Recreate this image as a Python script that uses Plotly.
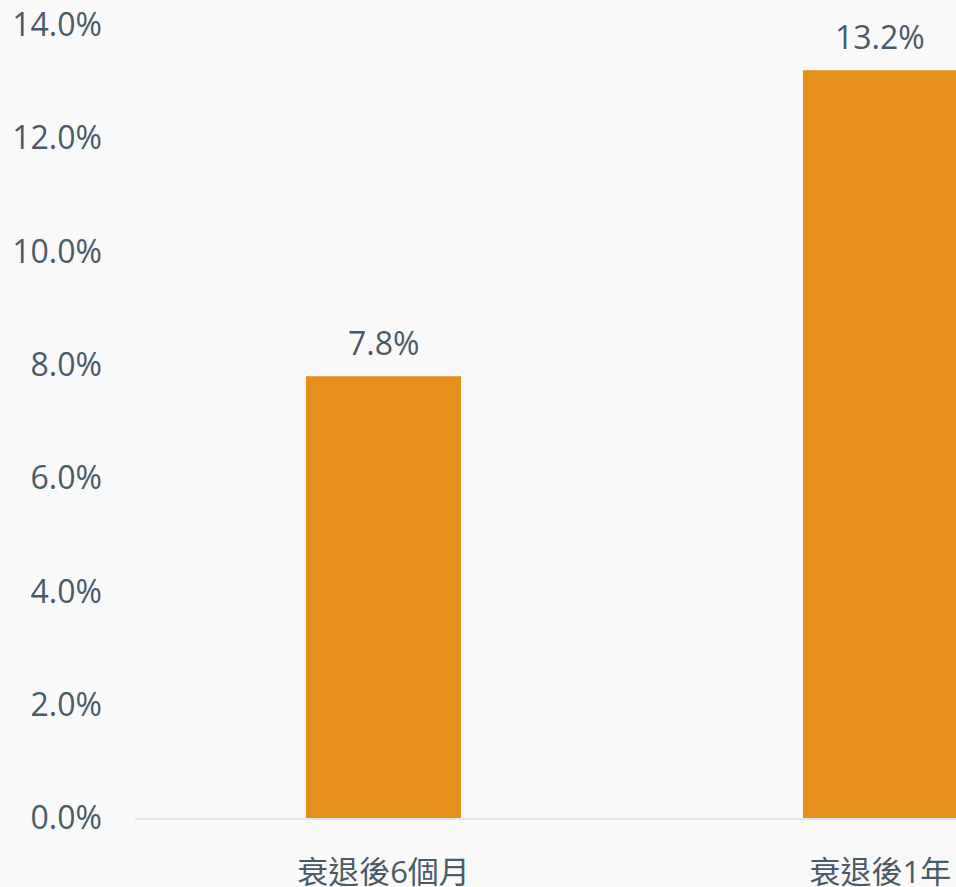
import plotly.graph_objects as go

categories = ["衰退後6個月", "衰退後1年"]
values = [7.8, 13.2]
value_labels = ["7.8%", "13.2%"]
y_ticks = [0, 2, 4, 6, 8, 10, 12, 14]

bar_color = "#E58F1C"
text_color = "#4A5B67"
bg = "#F9F9FA"

fig = go.Figure()
fig.add_trace(go.Bar(
    x=categories, y=values, width=0.312,
    marker=dict(color=bar_color, line=dict(width=0)),
    hoverinfo="skip",
))

for c, v, t in zip(categories, values, value_labels):
    fig.add_annotation(x=c, y=v, text=t, showarrow=False, yanchor="bottom",
                       yshift=10, font=dict(size=32, color=text_color))

fig.update_layout(
    width=956, height=887,
    margin=dict(l=135, r=0, t=25, b=69, autoexpand=False),
    paper_bgcolor=bg, plot_bgcolor=bg,
    font=dict(family="Open Sans, Noto Sans CJK TC, sans-serif", color=text_color),
    showlegend=False,
    bargap=0.2,
)
fig.update_xaxes(
    range=[-0.5, 1.152], showgrid=False, showline=True, linecolor="#DFE5EA",
    linewidth=2, ticks="", tickfont=dict(size=31, color=text_color),
    ticklabelstandoff=26, automargin=False,
)
fig.update_yaxes(
    range=[0, 14], tickvals=y_ticks, ticktext=[f"{v:.1f}%" for v in y_ticks],
    showgrid=False, zeroline=False, showline=False,
    tickfont=dict(size=32, color=text_color), ticklabelstandoff=32,
    automargin=False,
)

# page has a default 8px body margin; drop it so the figure fills the window
fig.write_html(
    "out.html",
    config={"displayModeBar": False},
    post_script="document.body.style.margin='0';document.body.style.overflow='hidden';",
)
